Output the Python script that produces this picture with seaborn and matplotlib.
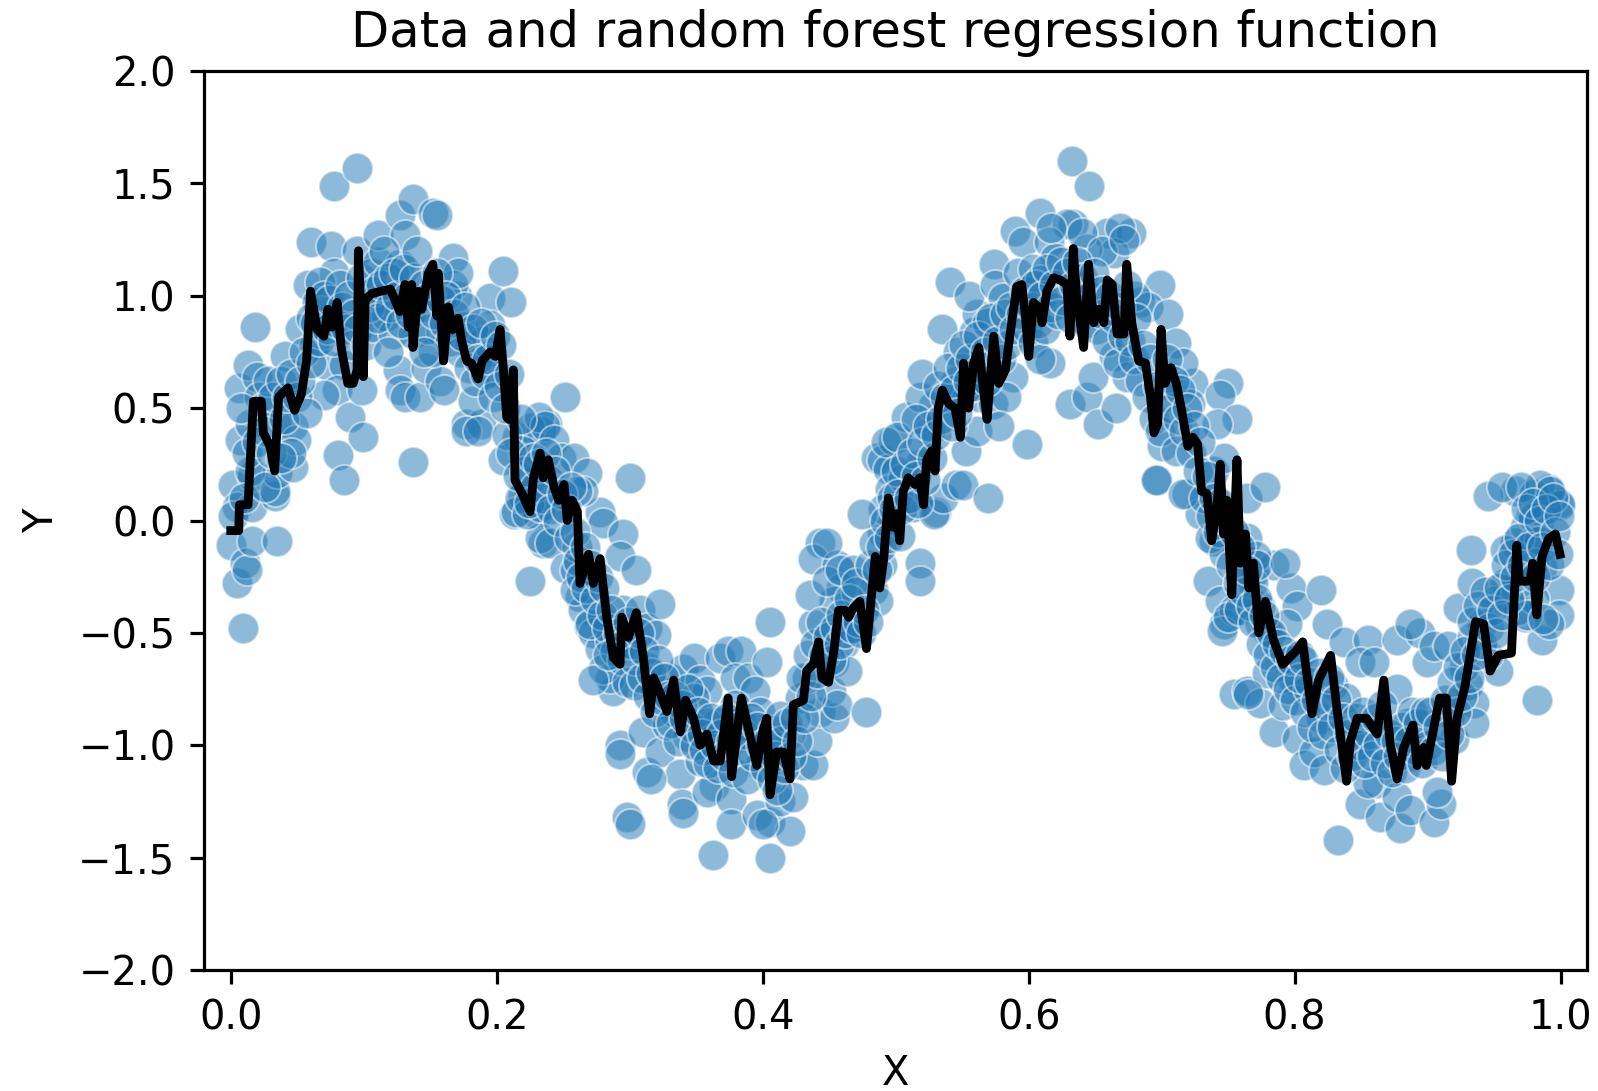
import numpy as np
import pandas as pd
import matplotlib
matplotlib.use("Agg")
import matplotlib.pyplot as plt
import seaborn as sns

# ---------------- data ----------------
# random-forest prediction curve
line_x = [0.000, 0.006, 0.0065, 0.013, 0.0145, 0.017, 0.023, 0.0245, 0.0295, 0.033, 0.036, 0.043,
          0.048, 0.053, 0.057, 0.060, 0.065, 0.070, 0.073, 0.076, 0.080, 0.083, 0.088, 0.092,
          0.095, 0.096, 0.0997, 0.101, 0.106, 0.120, 0.127, 0.131, 0.1335, 0.136, 0.137, 0.141,
          0.1436, 0.1486, 0.152, 0.155, 0.156, 0.160, 0.1636, 0.167, 0.171, 0.1736, 0.1774, 0.181,
          0.186, 0.189, 0.195, 0.199, 0.2025, 0.205, 0.2075, 0.209, 0.2125, 0.2137, 0.219, 0.225,
          0.2276, 0.2326, 0.235, 0.2388, 0.243, 0.2466, 0.2506, 0.253, 0.2566, 0.2606, 0.2626, 0.269,
          0.2726, 0.2777, 0.2827, 0.2877, 0.2927, 0.294, 0.299, 0.305, 0.310, 0.315, 0.318, 0.323,
          0.328, 0.333, 0.338, 0.342, 0.348, 0.353, 0.358, 0.363, 0.368, 0.374, 0.3766, 0.384,
          0.389, 0.3955, 0.400, 0.403, 0.4055, 0.4105, 0.4155, 0.4205, 0.423, 0.4306, 0.433, 0.438,
          0.442, 0.4445, 0.4495, 0.4535, 0.457, 0.462, 0.4646, 0.468, 0.473, 0.478, 0.4846, 0.488,
          0.491, 0.4944, 0.498, 0.5006, 0.503, 0.5057, 0.5094, 0.5145, 0.518, 0.521, 0.5233, 0.527,
          0.5296, 0.532, 0.535, 0.5398, 0.5446, 0.5486, 0.551, 0.5548, 0.5586, 0.5625, 0.566, 0.5687,
          0.5737, 0.5775, 0.5825, 0.586, 0.591, 0.5948, 0.5975, 0.600, 0.6036, 0.6087, 0.610, 0.6137,
          0.6187, 0.6237, 0.6287, 0.631, 0.6335, 0.636, 0.6413, 0.645, 0.649, 0.6527, 0.6565, 0.659,
          0.6628, 0.6665, 0.6716, 0.6737, 0.6775, 0.6827, 0.6878, 0.6916, 0.6942, 0.697, 0.6995, 0.7025,
          0.707, 0.711, 0.715, 0.7197, 0.7235, 0.727, 0.730, 0.734, 0.7376, 0.7415, 0.744, 0.7465,
          0.749, 0.7527, 0.7566, 0.759, 0.763, 0.7655, 0.769, 0.773, 0.778, 0.784, 0.791, 0.801,
          0.806, 0.813, 0.818, 0.827, 0.832, 0.839, 0.842, 0.847, 0.854, 0.862, 0.867, 0.872,
          0.877, 0.882, 0.889, 0.892, 0.897, 0.899, 0.904, 0.909, 0.914, 0.918, 0.922, 0.928,
          0.936, 0.942, 0.947, 0.953, 0.963, 0.967, 0.969, 0.977, 0.979, 0.982, 0.986, 0.991,
          0.996, 0.9995]
line_y = [-0.045, -0.045, 0.07, 0.07, 0.25, 0.53, 0.53, 0.39, 0.33, 0.22, 0.55, 0.59,
          0.49, 0.56, 0.71, 1.02, 0.85, 0.82, 0.94, 0.86, 0.97, 0.77, 0.61, 0.61,
          0.67, 1.20, 0.64, 0.98, 1.01, 1.03, 0.93, 1.05, 0.86, 1.05, 0.77, 1.02,
          0.94, 1.10, 1.14, 0.91, 1.10, 0.71, 0.95, 0.85, 0.90, 0.80, 0.71, 0.70,
          0.63, 0.71, 0.75, 0.73, 0.85, 0.67, 0.46, 0.45, 0.67, 0.18, 0.12, 0.04,
          0.19, 0.30, 0.19, 0.27, 0.15, 0.09, 0.16, 0.00, 0.09, 0.04, -0.28, -0.15,
          -0.28, -0.17, -0.43, -0.61, -0.64, -0.43, -0.52, -0.41, -0.60, -0.86, -0.70, -0.77,
          -0.85, -0.71, -0.94, -0.80, -0.88, -1.00, -0.95, -1.07, -1.07, -0.79, -1.14, -0.79,
          -0.92, -1.09, -0.94, -0.88, -1.22, -1.03, -1.03, -1.15, -0.82, -0.80, -0.67, -0.64,
          -0.54, -0.70, -0.72, -0.58, -0.40, -0.40, -0.43, -0.39, -0.36, -0.57, -0.16, -0.30,
          -0.17, 0.10, -0.03, 0.03, -0.09, 0.13, 0.19, 0.16, 0.19, 0.07, 0.27, 0.31,
          0.22, 0.50, 0.58, 0.52, 0.50, 0.37, 0.70, 0.50, 0.70, 0.77, 0.58, 0.45,
          0.82, 0.61, 0.67, 0.83, 1.04, 1.05, 0.91, 0.73, 0.97, 0.94, 0.88, 1.02,
          1.08, 1.07, 1.05, 0.82, 1.21, 1.00, 0.77, 1.14, 0.88, 0.94, 0.88, 1.07,
          1.05, 0.83, 0.83, 1.14, 0.88, 0.71, 0.70, 0.55, 0.39, 0.43, 0.85, 0.61,
          0.68, 0.61, 0.49, 0.33, 0.37, 0.34, 0.13, 0.12, -0.09, 0.06, 0.25, -0.06,
          0.09, -0.33, 0.27, -0.19, -0.06, -0.30, -0.19, -0.50, -0.36, -0.53, -0.64, -0.58,
          -0.54, -0.86, -0.71, -0.60, -0.85, -1.16, -0.98, -0.88, -0.88, -0.95, -0.71, -1.00,
          -1.15, -1.01, -0.91, -1.09, -1.01, -1.09, -0.94, -0.79, -0.79, -1.16, -0.88, -0.74,
          -0.45, -0.46, -0.67, -0.60, -0.59, -0.11, -0.27, -0.27, -0.19, -0.42, -0.16, -0.08,
          -0.06, -0.15]

# observed samples, grouped by x range: (x, y)
pts_00_10 = [(0.000, -0.11), (0.0045, -0.28), (0.0093, -0.48), (0.011, -0.19), (0.012, -0.22), (0.016, -0.09),
             (0.0346, -0.09), (0.002, 0.16), (0.0045, 0.06), (0.002, 0.02), (0.016, 0.20), (0.016, 0.06),
             (0.007, 0.36), (0.033, 0.11), (0.033, 0.13), (0.0346, 0.21), (0.047, 0.24), (0.0145, 0.22),
             (0.006, 0.59), (0.013, 0.69), (0.018, 0.86), (0.020, 0.64), (0.021, 0.55), (0.0145, 0.43),
             (0.024, 0.50), (0.034, 0.43), (0.047, 0.42), (0.049, 0.36), (0.041, 0.73), (0.052, 0.85),
             (0.058, 1.05), (0.060, 1.24), (0.075, 1.22), (0.078, 1.10), (0.078, 1.49), (0.095, 1.57),
             (0.095, 1.20), (0.065, 0.97), (0.067, 1.06), (0.060, 0.90), (0.0626, 0.78), (0.0726, 0.69),
             (0.085, 0.69), (0.080, 0.58), (0.070, 0.56), (0.090, 0.46), (0.0997, 0.37), (0.081, 0.29),
             (0.085, 0.18), (0.099, 0.58), (0.010, 0.10), (0.012, 0.30), (0.020, 0.35), (0.025, 0.40),
             (0.028, 0.62), (0.030, 0.30), (0.032, 0.55), (0.038, 0.62), (0.040, 0.45), (0.042, 0.55),
             (0.045, 0.65), (0.050, 0.55), (0.052, 0.62), (0.055, 0.75), (0.057, 0.48), (0.060, 0.70),
             (0.063, 0.88), (0.066, 0.80), (0.068, 0.93), (0.070, 1.00), (0.072, 0.85), (0.074, 0.98),
             (0.077, 0.80), (0.080, 0.88), (0.082, 1.05), (0.084, 0.95), (0.087, 0.85), (0.089, 1.00),
             (0.091, 0.78), (0.093, 0.92), (0.096, 0.85), (0.098, 1.08), (0.045, 0.30), (0.038, 0.28),
             (0.026, 0.15), (0.008, 0.50)]
pts_10_20 = [(0.102, 0.78), (0.107, 0.86), (0.106, 1.10), (0.111, 1.15), (0.111, 1.27), (0.114, 0.99),
             (0.117, 0.91), (0.122, 0.83), (0.126, 0.67), (0.127, 0.58), (0.131, 0.55), (0.137, 0.26),
             (0.142, 0.55), (0.147, 0.68), (0.157, 0.62), (0.160, 0.58), (0.137, 0.83), (0.152, 0.75),
             (0.158, 0.84), (0.170, 1.00), (0.175, 0.86), (0.180, 0.78), (0.177, 0.43), (0.188, 0.43),
             (0.182, 0.53), (0.198, 0.66), (0.127, 1.14), (0.127, 1.36), (0.131, 1.27), (0.137, 1.43),
             (0.152, 1.37), (0.155, 1.36), (0.167, 1.17), (0.167, 1.05), (0.171, 1.10), (0.195, 0.99),
             (0.195, 0.87), (0.190, 0.80), (0.196, 0.75), (0.177, 0.40), (0.186, 0.40), (0.104, 0.95),
             (0.108, 1.02), (0.110, 0.90), (0.113, 1.05), (0.115, 1.20), (0.118, 1.08), (0.120, 0.95),
             (0.123, 1.10), (0.125, 1.00), (0.128, 0.88), (0.130, 1.12), (0.133, 1.00), (0.135, 0.92),
             (0.138, 1.08), (0.140, 1.20), (0.143, 0.95), (0.145, 1.05), (0.148, 0.85), (0.150, 1.00),
             (0.153, 0.92), (0.155, 1.10), (0.158, 0.98), (0.160, 0.88), (0.162, 1.00), (0.165, 0.80),
             (0.168, 0.92), (0.172, 0.75), (0.174, 0.82), (0.176, 0.95), (0.179, 0.68), (0.182, 0.85),
             (0.184, 0.62), (0.186, 0.72), (0.188, 0.88), (0.191, 0.65), (0.193, 0.72), (0.197, 0.55),
             (0.199, 0.82), (0.145, 0.75), (0.118, 0.75)]
pts_20_30 = [(0.203, 0.78), (0.205, 1.11), (0.211, 0.97), (0.205, 0.27), (0.215, 0.37), (0.213, 0.03),
             (0.220, 0.11), (0.225, 0.18), (0.230, 0.03), (0.235, -0.10), (0.238, 0.43), (0.233, 0.40),
             (0.225, 0.41), (0.220, 0.31), (0.2514, 0.55), (0.300, 0.19), (0.225, -0.27), (0.2145, 0.04),
             (0.208, 0.38), (0.2316, 0.46), (0.236, 0.42), (0.243, 0.36), (0.248, 0.28), (0.258, 0.28),
             (0.268, 0.21), (0.2777, 0.04), (0.280, -0.01), (0.265, 0.13), (0.260, 0.13), (0.2326, -0.08),
             (0.240, -0.10), (0.2176, 0.10), (0.2226, 0.03), (0.2515, -0.21), (0.2586, -0.22), (0.295, -0.06),
             (0.293, -0.16), (0.2626, -0.34), (0.265, -0.40), (0.269, -0.47), (0.2727, -0.50), (0.2777, -0.57),
             (0.285, -0.53), (0.2953, -0.40), (0.2877, -0.76), (0.293, -1.00), (0.2977, -1.32), (0.285, -0.70),
             (0.280, -0.66), (0.2727, -0.71), (0.270, -0.46), (0.2586, -0.31), (0.260, -0.12), (0.2326, 0.06),
             (0.202, 0.60), (0.206, 0.50), (0.209, 0.65), (0.211, 0.30), (0.216, 0.20), (0.218, 0.45),
             (0.221, 0.22), (0.224, 0.08), (0.227, 0.28), (0.229, 0.15), (0.231, 0.25), (0.234, 0.10),
             (0.237, 0.30), (0.239, 0.18), (0.241, 0.05), (0.244, 0.22), (0.246, 0.00), (0.249, 0.12),
             (0.252, 0.05), (0.254, -0.08), (0.256, 0.15), (0.259, -0.05), (0.261, -0.18), (0.263, -0.25),
             (0.266, -0.12), (0.267, -0.30), (0.271, -0.20), (0.274, -0.35), (0.276, -0.25), (0.279, -0.42),
             (0.281, -0.30), (0.283, -0.48), (0.286, -0.40), (0.289, -0.58), (0.291, -0.50), (0.294, -0.62),
             (0.296, -0.55), (0.298, -0.72), (0.299, -0.45), (0.284, -0.60)]
pts_30_40 = [(0.305, -0.22), (0.3078, -0.40), (0.3128, -0.48), (0.323, -0.37), (0.320, -0.51), (0.3128, -1.12),
             (0.310, -0.94), (0.323, -1.03), (0.328, -0.91), (0.333, -0.85), (0.338, -1.13), (0.3396, -1.26),
             (0.3306, -0.70), (0.340, -0.66), (0.348, -0.61), (0.353, -0.71), (0.358, -0.76), (0.368, -0.61),
             (0.374, -0.58), (0.384, -0.58), (0.379, -0.70), (0.389, -0.70), (0.394, -0.76), (0.363, -1.18),
             (0.358, -1.21), (0.353, -1.07), (0.376, -1.24), (0.376, -1.35), (0.3626, -1.49), (0.3956, -1.31),
             (0.379, -0.82), (0.394, -0.97), (0.398, -1.09), (0.343, -0.96), (0.366, -0.90), (0.384, -0.89),
             (0.348, -0.79), (0.358, -0.90), (0.318, -0.73), (0.313, -0.65), (0.303, -0.73), (0.398, -0.85),
             (0.340, -1.30), (0.316, -1.15), (0.300, -1.35), (0.293, -1.04), (0.302, -0.55), (0.304, -0.62),
             (0.307, -0.50), (0.309, -0.70), (0.311, -0.58), (0.314, -0.78), (0.316, -0.68), (0.319, -0.85),
             (0.321, -0.62), (0.324, -0.80), (0.326, -0.70), (0.329, -0.78), (0.331, -0.90), (0.334, -0.78),
             (0.336, -0.98), (0.339, -0.82), (0.341, -0.88), (0.344, -0.75), (0.346, -0.92), (0.349, -1.00),
             (0.351, -0.85), (0.354, -0.95), (0.356, -1.02), (0.359, -1.08), (0.361, -0.88), (0.364, -1.00),
             (0.366, -1.10), (0.369, -0.95), (0.371, -1.05), (0.373, -0.88), (0.376, -0.98), (0.378, -1.12),
             (0.381, -0.92), (0.383, -1.02), (0.386, -0.95), (0.388, -1.15), (0.391, -0.88), (0.393, -1.05),
             (0.396, -0.92), (0.399, -1.00)]
pts_40_50 = [(0.4055, -0.45), (0.403, -0.63), (0.4055, -1.34), (0.4205, -1.38), (0.4055, -1.50), (0.413, -1.25),
             (0.423, -1.23), (0.4306, -1.09), (0.438, -1.09), (0.4405, -0.98), (0.443, -0.85), (0.4535, -0.88),
             (0.451, -0.76), (0.456, -0.82), (0.428, -0.79), (0.4205, -0.95), (0.433, -0.70), (0.438, -0.46),
             (0.443, -0.10), (0.438, -0.17), (0.456, -0.20), (0.4586, -0.30), (0.4535, -0.36), (0.4355, -0.33),
             (0.448, -0.27), (0.4535, -0.63), (0.461, -0.55), (0.4636, -0.45), (0.4636, -0.67), (0.408, -0.93),
             (0.413, -0.87), (0.400, -1.35), (0.448, -0.10), (0.458, -0.22), (0.468, -0.22), (0.483, -0.31),
             (0.478, -0.85), (0.470, -0.32), (0.487, -0.36), (0.490, -0.20), (0.485, 0.28), (0.490, 0.27),
             (0.494, 0.23), (0.498, 0.36), (0.490, -0.05), (0.493, 0.35), (0.4955, 0.14), (0.4905, 0.05),
             (0.475, 0.03), (0.402, -1.10), (0.404, -0.98), (0.407, -1.15), (0.409, -1.05), (0.411, -1.20),
             (0.414, -0.98), (0.416, -1.10), (0.418, -0.90), (0.421, -1.05), (0.424, -0.88), (0.426, -0.98),
             (0.429, -0.70), (0.431, -0.88), (0.434, -0.60), (0.436, -0.78), (0.439, -0.55), (0.441, -0.68),
             (0.444, -0.45), (0.446, -0.60), (0.449, -0.52), (0.451, -0.62), (0.454, -0.48), (0.457, -0.55),
             (0.459, -0.42), (0.462, -0.50), (0.465, -0.35), (0.467, -0.48), (0.470, -0.28), (0.472, -0.45),
             (0.474, -0.50), (0.476, -0.40), (0.479, -0.45), (0.481, -0.20), (0.484, -0.10), (0.486, -0.22),
             (0.489, -0.12), (0.492, 0.00), (0.495, -0.08), (0.497, 0.10), (0.499, 0.05)]
pts_50_60 = [(0.503, -0.07), (0.5057, 0.19), (0.508, 0.46), (0.5006, 0.37), (0.5183, -0.19), (0.5183, -0.27),
             (0.5133, 0.06), (0.526, 0.40), (0.528, 0.51), (0.518, 0.55), (0.518, 0.25), (0.5306, 0.04),
             (0.529, 0.03), (0.5356, 0.10), (0.5457, 0.16), (0.5508, 0.16), (0.553, 0.31), (0.5608, 0.40),
             (0.563, 0.55), (0.573, 0.52), (0.588, 0.64), (0.583, 0.55), (0.578, 0.42), (0.5696, 0.10),
             (0.5985, 0.34), (0.5196, 0.65), (0.535, 0.85), (0.547, 0.75), (0.5585, 0.84), (0.561, 0.92),
             (0.5687, 0.88), (0.541, 1.06), (0.555, 1.00), (0.5737, 1.14), (0.575, 1.05), (0.581, 0.99),
             (0.590, 1.29), (0.596, 1.24), (0.500, 0.22), (0.515, 0.45), (0.545, 0.62), (0.552, 0.58),
             (0.502, 0.12), (0.505, 0.05), (0.507, 0.25), (0.510, 0.10), (0.512, 0.30), (0.515, 0.20),
             (0.517, 0.08), (0.520, 0.35), (0.522, 0.18), (0.524, 0.42), (0.527, 0.28), (0.530, 0.38),
             (0.532, 0.60), (0.534, 0.45), (0.537, 0.55), (0.539, 0.68), (0.542, 0.42), (0.544, 0.58),
             (0.546, 0.48), (0.549, 0.68), (0.551, 0.78), (0.554, 0.62), (0.556, 0.72), (0.559, 0.60),
             (0.562, 0.82), (0.564, 0.68), (0.567, 0.75), (0.569, 0.62), (0.572, 0.90), (0.574, 0.70),
             (0.576, 0.80), (0.579, 0.72), (0.582, 0.92), (0.584, 0.78), (0.587, 0.95), (0.589, 0.85),
             (0.592, 1.10), (0.594, 0.92), (0.597, 1.02), (0.599, 0.85)]
pts_60_70 = [(0.6323, 1.60), (0.645, 1.49), (0.6085, 1.37), (0.6335, 1.32), (0.6285, 1.32), (0.659, 1.28),
             (0.6767, 1.28), (0.664, 1.19), (0.6154, 1.24), (0.620, 1.17), (0.6035, 1.12), (0.6085, 1.07),
             (0.6436, 1.21), (0.6987, 1.05), (0.684, 0.97), (0.6035, 0.79), (0.6163, 0.70), (0.6085, 0.72),
             (0.631, 0.52), (0.6436, 0.55), (0.6523, 0.43), (0.666, 0.50), (0.648, 0.64), (0.664, 0.73),
             (0.674, 0.64), (0.6964, 0.18), (0.700, 0.33), (0.696, 0.18), (0.669, 1.30), (0.640, 1.28),
             (0.655, 1.20), (0.617, 1.30), (0.672, 1.25), (0.690, 0.95), (0.680, 1.00), (0.602, 0.95),
             (0.605, 1.05), (0.607, 0.88), (0.610, 1.00), (0.612, 0.85), (0.614, 1.12), (0.617, 0.95),
             (0.619, 1.05), (0.622, 0.92), (0.624, 1.15), (0.626, 0.98), (0.629, 1.10), (0.631, 0.90),
             (0.634, 1.05), (0.636, 1.15), (0.639, 0.95), (0.641, 1.08), (0.643, 0.88), (0.646, 1.00),
             (0.649, 1.10), (0.651, 0.85), (0.654, 1.02), (0.656, 0.92), (0.659, 0.80), (0.661, 1.00),
             (0.664, 0.90), (0.667, 0.70), (0.669, 0.95), (0.671, 0.82), (0.674, 1.05), (0.676, 0.80),
             (0.679, 0.72), (0.681, 0.90), (0.684, 0.62), (0.686, 0.78), (0.689, 0.55), (0.691, 0.72),
             (0.694, 0.45), (0.697, 0.60), (0.699, 0.40)]
pts_70_80 = [(0.7049, 0.92), (0.711, 0.79), (0.7237, 0.61), (0.750, 0.61), (0.744, 0.56), (0.7566, 0.45),
             (0.7415, 0.43), (0.7215, 0.52), (0.716, 0.70), (0.711, 0.31), (0.7187, 0.12), (0.7287, 0.03),
             (0.739, 0.22), (0.7465, 0.28), (0.739, -0.09), (0.735, -0.27), (0.744, -0.36), (0.7465, -0.46),
             (0.754, -0.40), (0.7642, 0.10), (0.764, -0.08), (0.767, -0.18), (0.778, 0.15), (0.769, -0.24),
             (0.7843, -0.20), (0.797, -0.30), (0.774, -0.38), (0.716, 0.12), (0.736, -0.08), (0.745, -0.49),
             (0.750, -0.43), (0.758, -0.40), (0.771, -0.16), (0.769, -0.28), (0.774, -0.46), (0.779, -0.49),
             (0.754, -0.77), (0.764, -0.76), (0.774, -0.81), (0.7843, -0.94), (0.779, -0.68), (0.791, -0.82),
             (0.802, -0.38), (0.7943, -0.46), (0.799, -0.71), (0.772, -0.20), (0.793, -0.19), (0.765, -0.77),
             (0.702, 0.55), (0.704, 0.72), (0.707, 0.50), (0.709, 0.62), (0.712, 0.45), (0.714, 0.58),
             (0.717, 0.40), (0.719, 0.50), (0.722, 0.30), (0.724, 0.42), (0.727, 0.22), (0.729, 0.35),
             (0.732, 0.10), (0.734, 0.20), (0.737, 0.02), (0.739, 0.10), (0.742, -0.05), (0.744, 0.08),
             (0.747, -0.15), (0.749, 0.00), (0.752, -0.20), (0.754, -0.05), (0.757, -0.28), (0.759, -0.12),
             (0.762, -0.32), (0.764, -0.22), (0.767, -0.38), (0.769, -0.45), (0.772, -0.35), (0.775, -0.55),
             (0.777, -0.42), (0.780, -0.60), (0.782, -0.50), (0.785, -0.65), (0.787, -0.55), (0.790, -0.70),
             (0.792, -0.58), (0.795, -0.75), (0.797, -0.62), (0.800, -0.80)]
pts_80_90 = [(0.802, -0.97), (0.8069, -1.09), (0.8144, -1.03), (0.822, -1.11), (0.8195, -0.31), (0.824, -0.46),
             (0.8195, -0.88), (0.829, -0.73), (0.8326, -1.42), (0.837, -0.54), (0.855, -0.53), (0.849, -0.63),
             (0.860, -0.63), (0.8387, -0.79), (0.8438, -0.97), (0.849, -1.26), (0.8644, -1.32), (0.862, -1.17),
             (0.855, -1.17), (0.877, -1.23), (0.879, -1.37), (0.887, -1.29), (0.887, -1.05), (0.877, -0.53),
             (0.8945, -0.50), (0.887, -0.46), (0.877, -0.75), (0.885, -0.90), (0.8945, -0.97), (0.8995, -0.63),
             (0.804, -0.60), (0.810, -0.75), (0.803, -0.70), (0.806, -0.62), (0.808, -0.85), (0.811, -0.72),
             (0.813, -0.92), (0.816, -0.80), (0.818, -0.68), (0.821, -0.95), (0.823, -0.82), (0.826, -0.70),
             (0.828, -0.92), (0.831, -0.80), (0.833, -1.02), (0.836, -0.88), (0.838, -1.10), (0.841, -0.95),
             (0.843, -1.05), (0.846, -0.88), (0.848, -1.00), (0.851, -0.85), (0.853, -1.08), (0.856, -0.95),
             (0.858, -1.05), (0.861, -0.88), (0.863, -1.00), (0.866, -0.82), (0.868, -1.08), (0.871, -0.95),
             (0.873, -1.12), (0.876, -0.98), (0.878, -1.05), (0.881, -0.92), (0.883, -1.10), (0.886, -0.98),
             (0.888, -0.85), (0.891, -1.02), (0.893, -0.90), (0.896, -1.08), (0.898, -0.85), (0.900, -1.00)]
pts_90_100 = [(0.9045, -1.34), (0.910, -1.26), (0.907, -1.21), (0.9045, -0.56), (0.915, -0.56), (0.920, -0.97),
              (0.917, -0.86), (0.9225, -0.39), (0.9328, -0.13), (0.933, -0.28), (0.9405, -0.46), (0.933, -0.52),
              (0.930, -0.73), (0.935, -0.81), (0.935, -0.90), (0.9275, -0.65), (0.953, -0.67), (0.945, -0.60),
              (0.9825, -0.80), (0.9655, -0.10), (0.9731, -0.03), (0.978, 0.03), (0.9655, 0.13), (0.9856, -0.21),
              (0.9985, -0.31), (0.9985, -0.42), (0.9856, -0.53), (0.973, -0.43), (0.968, -0.28), (0.991, -0.46),
              (0.9985, 0.08), (0.991, 0.14), (0.9578, -0.13), (0.980, 0.12), (0.9845, 0.16), (0.9795, 0.01),
              (0.9995, 0.07), (0.9921, 0.13), (0.980, -0.09), (0.984, -0.09), (0.958, -0.28), (0.9503, -0.36),
              (0.968, -0.40), (0.980, -0.19), (0.980, -0.35), (0.975, -0.42), (0.987, -0.44), (0.945, 0.11),
              (0.956, 0.15), (0.970, 0.15), (0.902, -0.85), (0.905, -1.02), (0.908, -0.92), (0.911, -1.05),
              (0.913, -0.80), (0.916, -0.95), (0.918, -0.72), (0.921, -0.85), (0.923, -0.65), (0.926, -0.78),
              (0.928, -0.58), (0.931, -0.70), (0.933, -0.45), (0.936, -0.60), (0.938, -0.38), (0.941, -0.55),
              (0.943, -0.32), (0.946, -0.48), (0.948, -0.40), (0.951, -0.50), (0.954, -0.30), (0.956, -0.42),
              (0.959, -0.20), (0.961, -0.35), (0.964, -0.15), (0.966, -0.25), (0.969, -0.08), (0.971, -0.20),
              (0.974, 0.05), (0.976, -0.12), (0.979, 0.08), (0.981, -0.25), (0.984, 0.00), (0.986, -0.12),
              (0.989, 0.05), (0.991, -0.20), (0.994, 0.10), (0.996, -0.05), (0.998, -0.15), (0.999, 0.02)]

title = "Data and random forest regression function"
x_label = "X"
y_label = "Y"
y_ticks = [-2.0, -1.5, -1.0, -0.5, 0.0, 0.5, 1.0, 1.5, 2.0]
x_ticks = [0.0, 0.2, 0.4, 0.6, 0.8, 1.0]

# ---------------- figure ----------------
all_pts = (pts_00_10 + pts_10_20 + pts_20_30 + pts_30_40 + pts_40_50 +
           pts_50_60 + pts_60_70 + pts_70_80 + pts_80_90 + pts_90_100)
df_pts = pd.DataFrame(all_pts, columns=["x", "y"])
df_line = pd.DataFrame({"x": line_x, "y": line_y})

DPI = 288
fig = plt.figure(figsize=(1598 / DPI, 1091 / DPI), dpi=DPI)
ax = fig.add_axes([203.5 / 1598, 1 - 970 / 1091, (1587 - 203.5) / 1598, (970 - 71) / 1091])

sns.scatterplot(data=df_pts, x="x", y="y", ax=ax, color="#1f77b4", alpha=0.5, s=60,
                edgecolor="white", linewidth=0.5, zorder=2)
sns.lineplot(data=df_line, x="x", y="y", ax=ax, color="black", linewidth=2.2,
             estimator=None, sort=False, zorder=3)

ax.set_xlim(-0.0205, 1.0198)
ax.set_ylim(-2.0, 2.0)
ax.set_xticks(x_ticks)
ax.set_yticks(y_ticks)
ax.set_title(title, fontsize=12.4)
ax.set_xlabel(x_label, fontsize=10)
ax.set_ylabel(y_label, fontsize=10)
ax.tick_params(labelsize=10)

fig.savefig("out.png", dpi=DPI)
